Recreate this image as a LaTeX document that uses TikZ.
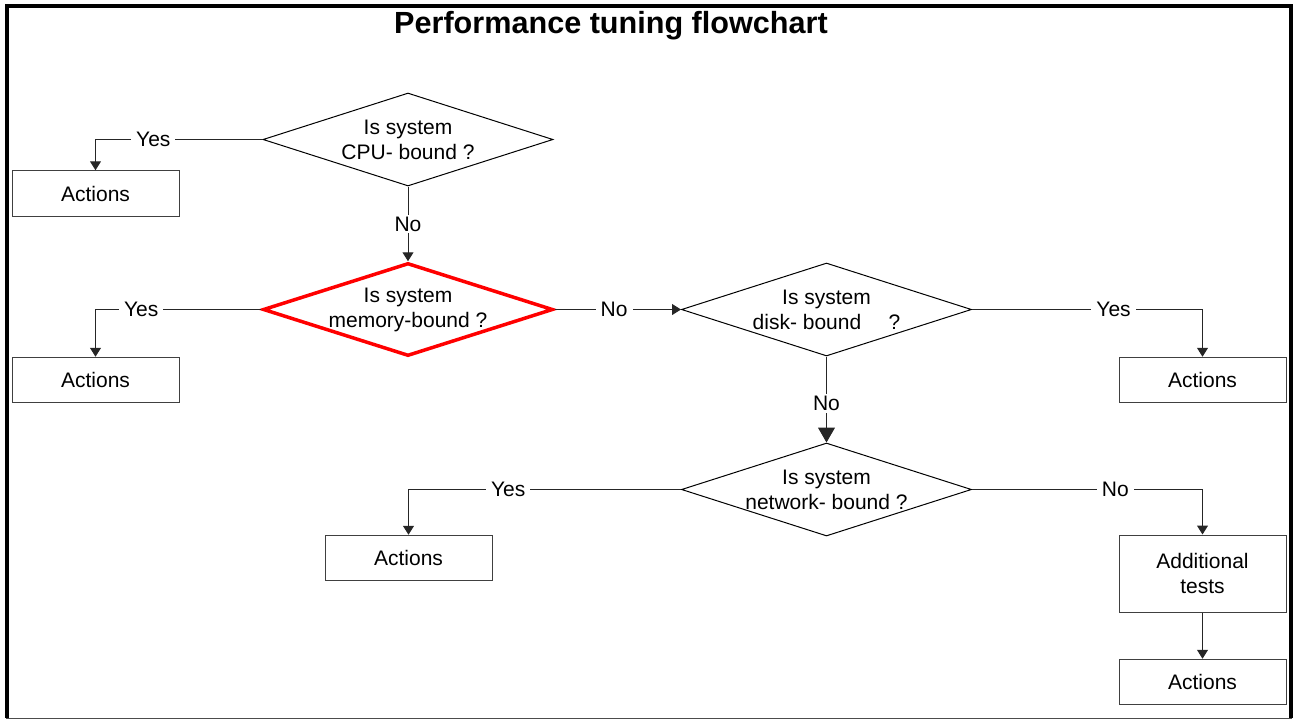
\documentclass[tikz,border=0pt]{standalone}
\usepackage{fontspec}
\setmainfont{Liberation Sans}
\usetikzlibrary{positioning, arrows.meta, shapes.geometric}

\begin{document}
\begin{tikzpicture}[
      x=0.5pt, y=-0.5pt,
      every node/.style={font=\fontsize{10.5}{12.5}\selectfont},
      decision/.style={diamond, draw=black, line width=0.5pt, aspect=3.12, inner xsep=-3pt, inner ysep=0pt,
        minimum width=145pt, minimum height=46.5pt, align=center},
      hot/.style={decision, draw=red, line width=1.75pt},
      action/.style={rectangle, draw=black!75, line width=0.5pt, align=center,
        minimum width=83.5pt, minimum height=22.75pt},
      arr/.style={draw=black!85, line width=0.5pt, -{Triangle[width=5.5pt,length=4.5pt]}},
      bigarr/.style={arr, -{Triangle[width=8.5pt,length=7.5pt]}},
      lbl/.style={fill=white, inner xsep=2.5pt, inner ysep=1pt},
    ]
    \useasboundingbox (0,0) rectangle (1298,719);
    \draw[line width=2pt] (7,718) -- (7,6) -- (1291,6) -- (1291,718);
    \draw[black!70, line width=0.5pt] (6,718) -- (1292,718);

    \node[font=\fontsize{15.3}{18}\selectfont\bfseries] (title) at (611,26) {Performance tuning flowchart};

    \node[decision] (cpu) at (408,139.5) {Is system\\CPU- bound ?};
    \node[hot] (mem) at (408,309.5) {Is system\\memory-bound ?};
    \node[decision] (disk) at (826.5,309.5) {Is system\\disk- bound\hspace{1.3em}?};
    \node[decision] (net) at (826.5,489.5) {Is system\\network- bound ?};

    \node[action] (act1) at (95.5,193.5) {Actions};
    \node[action] (act2) at (95.5,380) {Actions};
    \node[action] (act3) at (1202.5,380) {Actions};
    \node[action] (act4) at (408.5,558) {Actions};
    \node[action, minimum height=38.5pt] (tests) at (1202.5,573.5) {Additional\\tests};
    \node[action] (act5) at (1202.5,682) {Actions};

    \draw[arr] (cpu.west) -| node[lbl, pos=0.327] {Yes} (act1.north);
    \draw[arr] (cpu.south) -- node[lbl] {No} (mem.north);
    \draw[arr] (mem.west) -| node[lbl, pos=0.362] {Yes} (act2.north);
    \draw[arr] (mem.east) -- node[lbl, pos=0.47] {No} (disk.west);
    \draw[arr] (disk.east) -| node[lbl, pos=0.307] {Yes} (act3.north);
    \draw[bigarr] (disk.south) -- node[lbl, pos=0.55] {No} (net.north);
    \draw[arr] (net.west) -| node[lbl, pos=0.317] {Yes} (act4.north);
    \draw[arr] (net.east) -| node[lbl, pos=0.311] {No} (tests.north);
    \draw[arr] (tests) -- (act5);
  \end{tikzpicture}
\end{document}
